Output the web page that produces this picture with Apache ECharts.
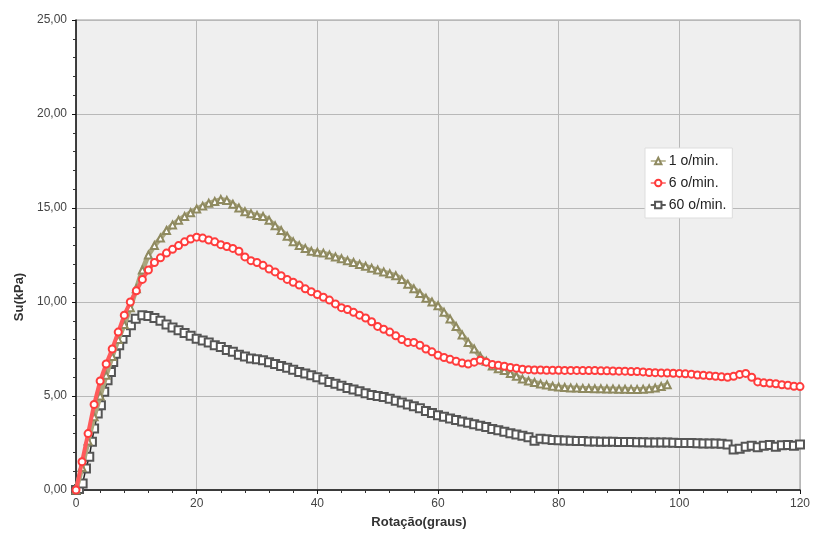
<!DOCTYPE html>
<html><head><meta charset="utf-8">
<script src="https://cdn.jsdelivr.net/npm/echarts@6/dist/echarts.min.js"></script>
<style>html,body{margin:0;padding:0;background:#fff}#c{width:813px;height:536px}</style>
</head><body><div id="c"></div>
<script>
const seriesNames = ['1 o/min.', '6 o/min.', '60 o/min.'];
const xTicks = [0, 20, 40, 60, 80, 100, 120];
const yTicks = ['0,00', '5,00', '10,00', '15,00', '20,00', '25,00'];

const x1 = [0,1,2,3,4,5,6,7,8,9,10,11,12,13,14,15,16,17,18,19,20,21,22,23,24,25,26,27,28,29,30,31,32,33,34,35,36,37,38,39,40,41,42,43,44,45,46,47,48,49,50,51,52,53,54,55,56,57,58,59,60,61,62,63,64,65,66,67,68,69,70,71,72,73,74,75,76,77,78,79,80,81,82,83,84,85,86,87,88,89,90,91,92,93,94,95,96,97,98];
const y1 = [0,1.2,2.6,3.9,5.0,6.1,7.1,8.0,8.8,9.7,10.7,11.7,12.5,13.0,13.4,13.8,14.1,14.35,14.55,14.75,14.95,15.1,15.25,15.35,15.45,15.4,15.2,15.0,14.8,14.7,14.6,14.55,14.35,14.05,13.8,13.5,13.2,13.0,12.85,12.7,12.65,12.6,12.5,12.4,12.3,12.2,12.1,12.0,11.9,11.8,11.7,11.6,11.5,11.4,11.2,10.95,10.7,10.45,10.2,10.0,9.8,9.45,9.1,8.7,8.25,7.85,7.5,7.1,6.85,6.6,6.45,6.35,6.2,6.05,5.9,5.8,5.72,5.64,5.58,5.52,5.48,5.45,5.43,5.42,5.4,5.4,5.38,5.38,5.37,5.37,5.36,5.36,5.35,5.35,5.36,5.38,5.42,5.5,5.6];

const x2 = [0,1,2,3,4,5,6,7,8,9,10,11,12,13,14,15,16,17,18,19,20,21,22,23,24,25,26,27,28,29,30,31,32,33,34,35,36,37,38,39,40,41,42,43,44,45,46,47,48,49,50,51,52,53,54,55,56,57,58,59,60,61,62,63,64,65,66,67,68,69,70,71,72,73,74,75,76,77,78,79,80,81,82,83,84,85,86,87,88,89,90,91,92,93,94,95,96,97,98,99,100,101,102,103,104,105,106,107,108,109,110,111,112,113,114,115,116,117,118,119,120];
const y2 = [0,1.5,3.0,4.55,5.8,6.7,7.5,8.4,9.3,10.0,10.6,11.2,11.7,12.1,12.35,12.6,12.8,13.0,13.2,13.35,13.45,13.4,13.3,13.2,13.05,12.95,12.85,12.7,12.4,12.2,12.1,11.95,11.75,11.6,11.4,11.2,11.05,10.9,10.7,10.55,10.4,10.25,10.1,9.9,9.7,9.6,9.45,9.3,9.15,8.95,8.7,8.55,8.4,8.2,8.0,7.85,7.85,7.7,7.5,7.35,7.17,7.05,6.95,6.85,6.75,6.7,6.8,6.9,6.8,6.68,6.63,6.58,6.52,6.47,6.42,6.4,6.38,6.38,6.37,6.37,6.37,6.36,6.36,6.36,6.35,6.35,6.35,6.34,6.34,6.33,6.32,6.32,6.3,6.3,6.28,6.25,6.24,6.23,6.22,6.21,6.2,6.18,6.16,6.12,6.1,6.08,6.05,6.02,6.0,6.05,6.15,6.2,6.0,5.75,5.7,5.68,5.65,5.6,5.57,5.52,5.5];

const x3 = [0,0.5,1.1,1.65,2.2,2.64,3.0,3.6,4.13,4.68,5.23,5.79,6.17,6.6,7.16,7.71,8.26,9.1,9.9,11,12,13,14,15,16,17,18,19,20,21,22,23,24,25,26,27,28,29,30,31,32,33,34,35,36,37,38,39,40,41,42,43,44,45,46,47,48,49,50,51,52,53,54,55,56,57,58,59,60,61,62,63,64,65,66,67,68,69,70,71,72,73,74,75,76,77,78,79,80,81,82,83,84,85,86,87,88,89,90,91,92,93,94,95,96,97,98,99,100,101,102,103,104,105,106,107,108,109,110,111,112,113,114,115,116,117,118,119,120];
const y3 = [0,0.05,0.35,1.15,1.77,2.57,3.27,4.07,4.51,5.22,5.84,6.28,6.81,7.25,7.7,8.05,8.4,8.76,9.11,9.29,9.25,9.15,9.0,8.8,8.65,8.5,8.35,8.2,8.05,7.95,7.85,7.7,7.6,7.45,7.35,7.2,7.1,7.0,6.95,6.9,6.8,6.7,6.6,6.5,6.4,6.28,6.2,6.1,6.0,5.88,5.75,5.65,5.55,5.42,5.35,5.25,5.15,5.05,5.0,4.95,4.85,4.75,4.65,4.55,4.45,4.35,4.2,4.1,3.98,3.9,3.8,3.72,3.65,3.58,3.5,3.42,3.35,3.25,3.18,3.1,3.02,2.95,2.88,2.8,2.62,2.72,2.7,2.66,2.65,2.63,2.62,2.6,2.6,2.58,2.58,2.57,2.57,2.56,2.55,2.55,2.55,2.54,2.54,2.53,2.53,2.52,2.52,2.51,2.5,2.5,2.5,2.49,2.48,2.48,2.47,2.46,2.42,2.15,2.2,2.3,2.35,2.28,2.35,2.4,2.3,2.38,2.4,2.35,2.42,2.45];

const zip = (xs, ys) => xs.map((x, i) => [x, ys[i]]);
const chart = echarts.init(document.getElementById('c'), null, {renderer: 'canvas'});
const font = 'Liberation Sans, Arial, sans-serif';
chart.setOption({
  animation: false,
  backgroundColor: '#ffffff',
  grid: {left: 76, right: 11, top: 20, bottom: 46, show: true, backgroundColor: '#efefef', borderColor: '#9a9a9a', borderWidth: 1},
  legend: {
    orient: 'vertical', left: 645, top: 148, data: seriesNames,
    backgroundColor: '#ffffff', borderColor: '#dddddd', borderWidth: 1,
    padding: [6, 6, 6, 5], itemGap: 8, itemWidth: 15, itemHeight: 8,
    lineStyle: {width: 1.5},
    textStyle: {fontFamily: font, fontSize: 14, color: '#222', padding: [0, 0, 0, -2]}
  },
  xAxis: {
    type: 'value', min: 0, max: 120, interval: 20,
    name: 'Rotação(graus)', nameLocation: 'middle', nameGap: 26,
    nameTextStyle: {fontFamily: font, fontSize: 13, fontWeight: 'bold', color: '#333', padding: [0, 38, 0, 0]},
    axisLine: {show: true, lineStyle: {color: '#111', width: 1.5}},
    axisTick: {show: true, length: 4, lineStyle: {color: '#111'}},
    minorTick: {show: true, splitNumber: 5, length: 3, lineStyle: {color: '#333'}},
    axisLabel: {fontFamily: font, fontSize: 12, color: '#444', margin: 8,
      formatter: v => xTicks.indexOf(v) >= 0 ? String(v) : ''},
    splitLine: {show: true, lineStyle: {color: '#b8b8b8', width: 1}}
  },
  yAxis: {
    type: 'value', min: 0, max: 25, interval: 5,
    name: 'Su(kPa)', nameLocation: 'middle', nameGap: 50, nameRotate: 90,
    nameTextStyle: {fontFamily: font, fontSize: 13, fontWeight: 'bold', color: '#333', padding: [0, 0, 0, -84]},
    axisLine: {show: true, lineStyle: {color: '#111', width: 1.5}},
    axisTick: {show: true, length: 4, lineStyle: {color: '#111'}},
    minorTick: {show: true, splitNumber: 5, length: 3, lineStyle: {color: '#333'}},
    axisLabel: {fontFamily: font, fontSize: 12, color: '#444', margin: 9,
      formatter: v => yTicks[Math.round(v / 5)]},
    splitLine: {show: true, lineStyle: {color: '#b8b8b8', width: 1}}
  },
  series: [
    {name: seriesNames[0], type: 'line', data: zip(x1, y1), symbol: 'emptyTriangle', symbolSize: 7,
      color: '#a6a178', lineStyle: {width: 5, color: '#aaa67e'}, itemStyle: {color: '#8f8a60', borderWidth: 1}, z: 3},
    {name: seriesNames[1], type: 'line', data: zip(x2, y2), symbol: 'emptyCircle', symbolSize: 7,
      color: '#ff4444', lineStyle: {width: 4, color: '#ff5a5a'}, itemStyle: {color: '#ff3c3c', borderWidth: 1.2}, z: 4},
    {name: seriesNames[2], type: 'line', data: zip(x3, y3), symbol: 'emptyRect', symbolSize: 8,
      color: '#222222', lineStyle: {width: 1.5, color: '#222222'}, itemStyle: {color: '#555555', borderWidth: 1}, z: 2}
  ]
});
</script></body></html>
